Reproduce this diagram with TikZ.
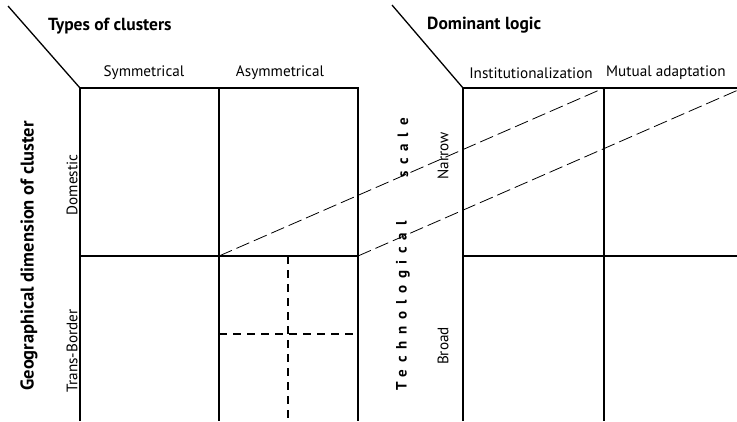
\documentclass[tikz,border=0pt]{standalone}
\usepackage{fontspec}
\setmainfont{PT Sans}
\newfontfamily\spacedbold[LetterSpace=45]{PT Sans}
\begin{document}
\begin{tikzpicture}[x=1pt,y=-1pt,
  grid/.style={line width=1.6pt},
  corner/.style={line width=1.3pt},
  longdash/.style={line width=0.8pt,dash pattern=on 14pt off 5pt},
  shortdash/.style={line width=1.4pt,dash pattern=on 8pt off 6pt},
  head/.style={font=\bfseries\fontsize{17.5}{20}\selectfont,inner sep=0pt},
  lab/.style={font=\fontsize{15.2}{17}\selectfont,inner sep=0pt},
  vlab/.style={lab,rotate=90},
  vhead/.style={font=\bfseries\fontsize{18.5}{21}\selectfont,inner sep=0pt,rotate=90},
  spaced/.style={inner sep=0pt,rotate=90,font=\spacedbold\bfseries\fontsize{15}{17}\selectfont}]
\useasboundingbox (0,0) rectangle (737,421);
\begin{scope}
\clip (0,0) rectangle (737,421);
% left grid
\draw[grid] (80,421) -- (80,88) -- (358,88) -- (358,421);
\draw[grid] (219,88) -- (219,421);
\draw[grid] (80,256) -- (358,256);
\draw[corner] (8,6) -- (80,88);
\draw[shortdash] (288,256) -- (288,421);
\draw[shortdash] (219,334) -- (358,334);
% right grid
\draw[grid] (463,421) -- (463,88) -- (745,88);
\draw[grid] (604,88) -- (604,421);
\draw[grid] (463,256) -- (745,256);
\draw[corner] (392,5) -- (463,88);
% dashed diagonals
\draw[longdash] (219,256) -- (604,88);
\draw[longdash] (358,256) -- (745,87);
\end{scope}
% titles
\node[head,anchor=west] (t1) at (48,26) {Types of clusters};
\node[head,anchor=west] (t2) at (427,25) {Dominant logic};
\node[lab] (sym) at (144,73) {Symmetrical};
\node[lab] (asym) at (280,73) {Asymmetrical};
\node[lab] (inst) at (531,73) {Institutionalization};
\node[lab,anchor=west] (mut) at (606,73) {Mutual adaptation};
\node[vhead] (geo) at (29,256) {Geographical dimension of cluster};
\node[vlab] (dom) at (72,185) {Domestic};
\node[vlab] (tb) at (72,351) {Trans-Border};
\node[vlab] (nar) at (443,156) {Narrow};
\node[vlab] (bro) at (443,346) {Broad};
\node[spaced] (tech) at (403,306) {Technological};
\node[spaced] (scale) at (403,148) {scale};
\end{tikzpicture}
\end{document}
